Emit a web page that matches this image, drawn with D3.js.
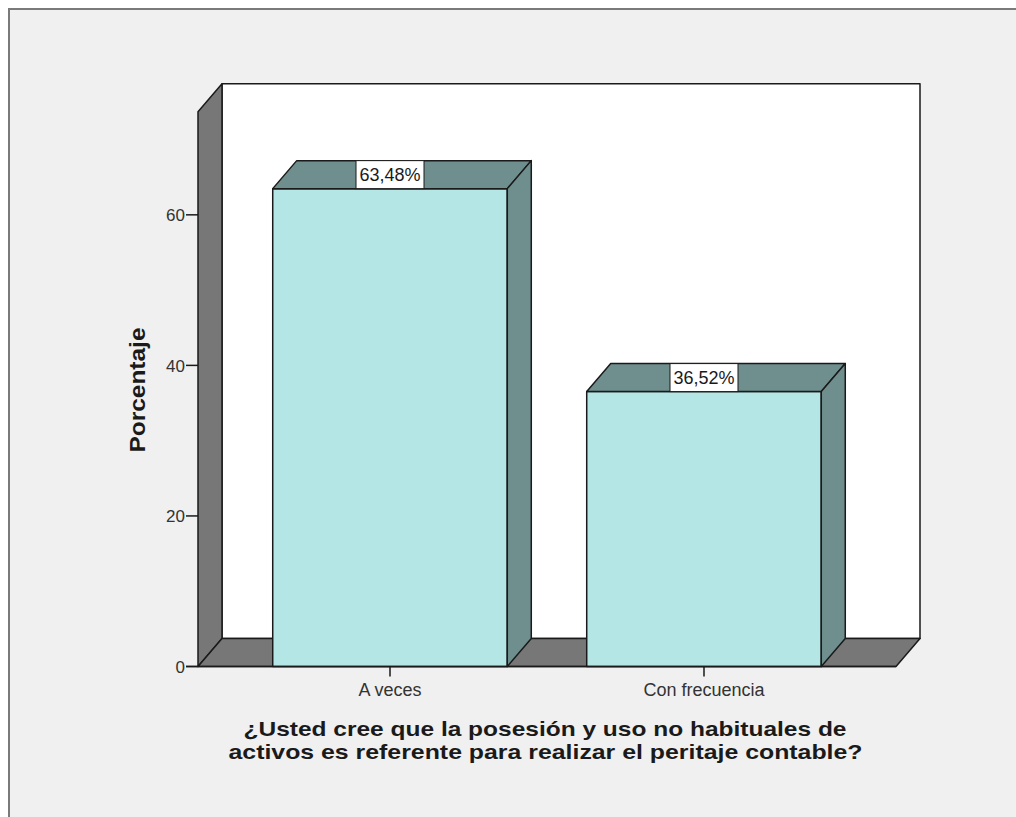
<!DOCTYPE html>
<html>
<head>
<meta charset="utf-8">
<script src="https://cdn.jsdelivr.net/npm/d3@7"></script>
<style>
  html, body { margin: 0; padding: 0; background: #ffffff; }
  svg { display: block; }
  text { font-family: "Liberation Sans", Arial, sans-serif; fill: #1a1a1a; }
</style>
</head>
<body>
<svg id="chart" width="1016" height="817"></svg>
<script>
// Survey answers and their share of respondents (%)
const categories = ["A veces", "Con frecuencia"];
const percentages = [63.48, 36.52];
const valueLabels = ["63,48%", "36,52%"];
const yTicks = [0, 20, 40, 60];
const yTitle = "Porcentaje";
const xTitleLines = [
  "¿Usted cree que la posesión y uso no habituales de",
  "activos es referente para realizar el peritaje contable?"
];

const svg = d3.select("#chart");
const W = 1016, H = 817;

// Layout of the front plane of the 3D box
const plotLeft = 198, plotRight = 896, plotBottom = 666.5, plotTop = 111.7;
const depthX = 24, depthY = -28;
const yMax = 73.7;

const x = d3.scaleBand().domain(categories).range([plotLeft, plotRight])
  .paddingInner(0.253).paddingOuter(0.238);
const y = d3.scaleLinear().domain([0, yMax]).range([plotBottom, plotTop]);

const wallFill = "#777777";
const edge = "#1a1a1a";
const frontFill = "#b4e6e6";
const shadeFill = "#6f8f8e";

// Outer frame
svg.append("rect").attr("x", 9).attr("y", 9).attr("width", W + 20).attr("height", H + 20)
  .attr("fill", "#f0f0f0").attr("stroke", "#7a7a7a").attr("stroke-width", 2);

const line = d3.line();
const poly = (pts, fill) => svg.append("path").attr("d", line(pts) + "Z")
  .attr("fill", fill).attr("stroke", edge).attr("stroke-width", 1.5).attr("stroke-linejoin", "round");

// Back wall
poly([[plotLeft + depthX, plotTop + depthY], [plotRight + depthX, plotTop + depthY],
      [plotRight + depthX, plotBottom + depthY], [plotLeft + depthX, plotBottom + depthY]], "#ffffff");
// Left side wall
poly([[plotLeft, plotTop], [plotLeft + depthX, plotTop + depthY],
      [plotLeft + depthX, plotBottom + depthY], [plotLeft, plotBottom]], wallFill);
// Floor
poly([[plotLeft, plotBottom], [plotLeft + depthX, plotBottom + depthY],
      [plotRight + depthX, plotBottom + depthY], [plotRight, plotBottom]], wallFill);

// Bars
categories.forEach((c, i) => {
  const x0 = x(c), x1 = x(c) + x.bandwidth();
  const yt = y(percentages[i]);
  // front face
  poly([[x0, yt], [x1, yt], [x1, plotBottom], [x0, plotBottom]], frontFill);
  // top face
  poly([[x0, yt], [x0 + depthX, yt + depthY], [x1 + depthX, yt + depthY], [x1, yt]], shadeFill);
  // right side face
  poly([[x1, yt], [x1 + depthX, yt + depthY], [x1 + depthX, plotBottom + depthY], [x1, plotBottom]], shadeFill);
});

// Y axis ticks and labels
const yAxis = svg.append("g");
yTicks.forEach(t => {
  yAxis.append("line").attr("x1", plotLeft - 12).attr("x2", plotLeft).attr("y1", y(t)).attr("y2", y(t))
    .attr("stroke", edge).attr("stroke-width", 1.5);
  yAxis.append("text").attr("x", plotLeft - 13).attr("y", y(t)).attr("dy", "0.36em")
    .attr("text-anchor", "end").attr("font-size", 17).style("fill", "#333").text(t);
});

// X axis baseline, ticks and category labels
svg.append("line").attr("x1", plotLeft - 12).attr("x2", plotRight).attr("y1", plotBottom).attr("y2", plotBottom)
  .attr("stroke", edge).attr("stroke-width", 1.5);
categories.forEach(c => {
  const cx = x(c) + x.bandwidth() / 2;
  svg.append("line").attr("x1", cx).attr("x2", cx).attr("y1", plotBottom).attr("y2", plotBottom + 10)
    .attr("stroke", edge).attr("stroke-width", 1.5);
  svg.append("text").attr("x", cx).attr("y", 696).attr("text-anchor", "middle")
    .attr("font-size", 18).style("fill", "#333").text(c);
});

// Value labels on the top faces
categories.forEach((c, i) => {
  const cx = x(c) + x.bandwidth() / 2;
  const yt = y(percentages[i]);
  const bw = 68;
  svg.append("rect").attr("x", cx - bw / 2).attr("y", yt + depthY).attr("width", bw).attr("height", -depthY)
    .attr("fill", "#ffffff").attr("stroke", edge).attr("stroke-width", 1);
  svg.append("text").attr("x", cx).attr("y", yt + depthY / 2).attr("dy", "0.36em")
    .attr("text-anchor", "middle").attr("font-size", 18).text(valueLabels[i]);
});

// Axis titles
svg.append("text").attr("transform", "translate(145,390) rotate(-90)")
  .attr("text-anchor", "middle").attr("font-size", 22).attr("font-weight", "bold")
  .attr("textLength", 125).attr("lengthAdjust", "spacingAndGlyphs").text(yTitle);

svg.append("text").attr("x", 545).attr("y", 736).attr("text-anchor", "middle")
  .attr("font-size", 21).attr("font-weight", "bold")
  .attr("textLength", 603).attr("lengthAdjust", "spacingAndGlyphs").text(xTitleLines[0]);
svg.append("text").attr("x", 545.5).attr("y", 759).attr("text-anchor", "middle")
  .attr("font-size", 21).attr("font-weight", "bold")
  .attr("textLength", 634).attr("lengthAdjust", "spacingAndGlyphs").text(xTitleLines[1]);
</script>
</body>
</html>
